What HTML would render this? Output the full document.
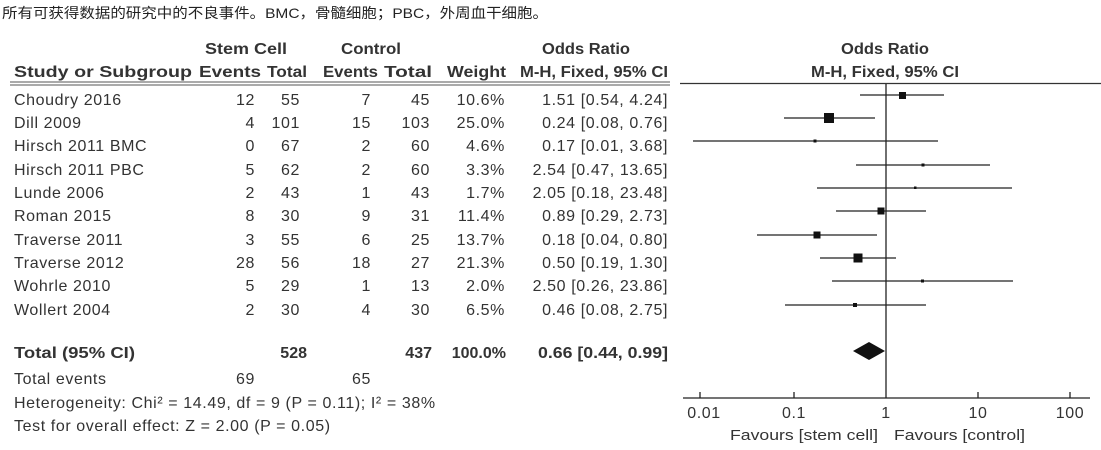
<!DOCTYPE html>
<html><head><meta charset="utf-8"><style>
body{margin:0;background:#fff;}
svg{display:block;}
text{font-family:"Liberation Sans","Noto Sans CJK SC",sans-serif;font-size:16px;letter-spacing:0.6px;fill:#333;}
.b{font-weight:bold;font-size:16px;letter-spacing:0;}
</style></head><body>
<svg width="1101" height="450" viewBox="0 0 1101 450">
<text x="2" y="18" style="font-size:14px;letter-spacing:0;fill:#222" textLength="546" lengthAdjust="spacingAndGlyphs">所有可获得数据的研究中的不良事件。BMC，骨髓细胞；PBC，外周血干细胞。</text>
<text x="205" y="54" class="b" textLength="82" lengthAdjust="spacingAndGlyphs">Stem Cell</text>
<text x="341" y="54" class="b" textLength="60" lengthAdjust="spacingAndGlyphs">Control</text>
<text x="542" y="54" class="b" textLength="88" lengthAdjust="spacingAndGlyphs">Odds Ratio</text>
<text x="841" y="54" class="b" textLength="88" lengthAdjust="spacingAndGlyphs">Odds Ratio</text>
<text x="14" y="77" class="b" textLength="178" lengthAdjust="spacingAndGlyphs">Study or Subgroup</text>
<text x="199" y="77" class="b" textLength="62" lengthAdjust="spacingAndGlyphs">Events</text>
<text x="267" y="77" class="b" textLength="40" lengthAdjust="spacingAndGlyphs">Total</text>
<text x="323" y="77" class="b" textLength="55" lengthAdjust="spacingAndGlyphs">Events</text>
<text x="384" y="77" class="b" textLength="48" lengthAdjust="spacingAndGlyphs">Total</text>
<text x="447" y="77" class="b" textLength="59" lengthAdjust="spacingAndGlyphs">Weight</text>
<text x="520" y="77" class="b" textLength="148" lengthAdjust="spacingAndGlyphs">M-H, Fixed, 95% CI</text>
<text x="811" y="77" class="b" textLength="148" lengthAdjust="spacingAndGlyphs">M-H, Fixed, 95% CI</text>
<line x1="10" y1="82" x2="670" y2="82" stroke="#555" stroke-width="1"/>
<line x1="10" y1="85" x2="670" y2="85" stroke="#555" stroke-width="1"/>
<line x1="680" y1="83.5" x2="1101" y2="83.5" stroke="#333" stroke-width="1.3"/>

<g>
<text x="14" y="105">Choudry 2016</text><text x="255" y="105" text-anchor="end">12</text><text x="300" y="105" text-anchor="end">55</text><text x="371" y="105" text-anchor="end">7</text><text x="430" y="105" text-anchor="end">45</text><text x="505" y="105" text-anchor="end">10.6%</text><text x="668" y="105" text-anchor="end">1.51 [0.54, 4.24]</text>
<text x="14" y="128">Dill 2009</text><text x="255" y="128" text-anchor="end">4</text><text x="300" y="128" text-anchor="end">101</text><text x="371" y="128" text-anchor="end">15</text><text x="430" y="128" text-anchor="end">103</text><text x="505" y="128" text-anchor="end">25.0%</text><text x="668" y="128" text-anchor="end">0.24 [0.08, 0.76]</text>
<text x="14" y="151">Hirsch 2011 BMC</text><text x="255" y="151" text-anchor="end">0</text><text x="300" y="151" text-anchor="end">67</text><text x="371" y="151" text-anchor="end">2</text><text x="430" y="151" text-anchor="end">60</text><text x="505" y="151" text-anchor="end">4.6%</text><text x="668" y="151" text-anchor="end">0.17 [0.01, 3.68]</text>
<text x="14" y="175">Hirsch 2011 PBC</text><text x="255" y="175" text-anchor="end">5</text><text x="300" y="175" text-anchor="end">62</text><text x="371" y="175" text-anchor="end">2</text><text x="430" y="175" text-anchor="end">60</text><text x="505" y="175" text-anchor="end">3.3%</text><text x="668" y="175" text-anchor="end">2.54 [0.47, 13.65]</text>
<text x="14" y="198">Lunde 2006</text><text x="255" y="198" text-anchor="end">2</text><text x="300" y="198" text-anchor="end">43</text><text x="371" y="198" text-anchor="end">1</text><text x="430" y="198" text-anchor="end">43</text><text x="505" y="198" text-anchor="end">1.7%</text><text x="668" y="198" text-anchor="end">2.05 [0.18, 23.48]</text>
<text x="14" y="221">Roman 2015</text><text x="255" y="221" text-anchor="end">8</text><text x="300" y="221" text-anchor="end">30</text><text x="371" y="221" text-anchor="end">9</text><text x="430" y="221" text-anchor="end">31</text><text x="505" y="221" text-anchor="end">11.4%</text><text x="668" y="221" text-anchor="end">0.89 [0.29, 2.73]</text>
<text x="14" y="245">Traverse 2011</text><text x="255" y="245" text-anchor="end">3</text><text x="300" y="245" text-anchor="end">55</text><text x="371" y="245" text-anchor="end">6</text><text x="430" y="245" text-anchor="end">25</text><text x="505" y="245" text-anchor="end">13.7%</text><text x="668" y="245" text-anchor="end">0.18 [0.04, 0.80]</text>
<text x="14" y="268">Traverse 2012</text><text x="255" y="268" text-anchor="end">28</text><text x="300" y="268" text-anchor="end">56</text><text x="371" y="268" text-anchor="end">18</text><text x="430" y="268" text-anchor="end">27</text><text x="505" y="268" text-anchor="end">21.3%</text><text x="668" y="268" text-anchor="end">0.50 [0.19, 1.30]</text>
<text x="14" y="291">Wohrle 2010</text><text x="255" y="291" text-anchor="end">5</text><text x="300" y="291" text-anchor="end">29</text><text x="371" y="291" text-anchor="end">1</text><text x="430" y="291" text-anchor="end">13</text><text x="505" y="291" text-anchor="end">2.0%</text><text x="668" y="291" text-anchor="end">2.50 [0.26, 23.86]</text>
<text x="14" y="315">Wollert 2004</text><text x="255" y="315" text-anchor="end">2</text><text x="300" y="315" text-anchor="end">30</text><text x="371" y="315" text-anchor="end">4</text><text x="430" y="315" text-anchor="end">30</text><text x="505" y="315" text-anchor="end">6.5%</text><text x="668" y="315" text-anchor="end">0.46 [0.08, 2.75]</text>
</g>
<text x="14" y="358" class="b" textLength="121" lengthAdjust="spacingAndGlyphs">Total (95% CI)</text>
<text x="307" y="358" text-anchor="end" class="b">528</text>
<text x="432" y="358" text-anchor="end" class="b">437</text>
<text x="506" y="358" text-anchor="end" class="b">100.0%</text>
<text x="538" y="358" class="b" textLength="130" lengthAdjust="spacingAndGlyphs">0.66 [0.44, 0.99]</text>
<text x="14" y="384">Total events</text><text x="255" y="384" text-anchor="end">69</text><text x="371" y="384" text-anchor="end">65</text>
<text x="14" y="408">Heterogeneity: Chi² = 14.49, df = 9 (P = 0.11); I² = 38%</text>
<text x="14" y="431">Test for overall effect: Z = 2.00 (P = 0.05)</text>

<g stroke="#222" stroke-width="1.3">
<line x1="886" y1="84" x2="886" y2="398"/>
<line x1="683" y1="398" x2="1090" y2="398"/>
<line x1="700" y1="392" x2="700" y2="398"/>
<line x1="794" y1="392" x2="794" y2="398"/>
<line x1="978" y1="392" x2="978" y2="398"/>
<line x1="1070" y1="392" x2="1070" y2="398"/>
<line x1="860" y1="95" x2="944" y2="95"/>
<line x1="784" y1="118" x2="875" y2="118"/>
<line x1="693" y1="141" x2="938" y2="141"/>
<line x1="856" y1="165" x2="990" y2="165"/>
<line x1="817" y1="188" x2="1012" y2="188"/>
<line x1="836" y1="211" x2="926" y2="211"/>
<line x1="757" y1="235" x2="877" y2="235"/>
<line x1="820" y1="258" x2="896" y2="258"/>
<line x1="832" y1="281" x2="1013" y2="281"/>
<line x1="785" y1="305" x2="926" y2="305"/>
</g>
<g fill="#111">
<rect x="899" y="92" width="7" height="7"/>
<rect x="824" y="113" width="10" height="10"/>
<rect x="813.5" y="139.5" width="3" height="3"/>
<rect x="921.5" y="163.5" width="3" height="3"/>
<rect x="914" y="186.5" width="2.5" height="2.5"/>
<rect x="877.5" y="207.5" width="7" height="7"/>
<rect x="813.5" y="231.5" width="7" height="7"/>
<rect x="853.5" y="253.5" width="9" height="9"/>
<rect x="921" y="279.5" width="3" height="3"/>
<rect x="853" y="303" width="4" height="4"/>
<polygon points="853,351 869,342 885,351 869,360"/>
</g>
<text x="704" y="418" text-anchor="middle">0.01</text>
<text x="794" y="418" text-anchor="middle">0.1</text>
<text x="886" y="418" text-anchor="middle">1</text>
<text x="978" y="418" text-anchor="middle">10</text>
<text x="1070" y="418" text-anchor="middle">100</text>
<text x="730" y="440" style="font-size:15px;letter-spacing:0" textLength="148" lengthAdjust="spacingAndGlyphs">Favours [stem cell]</text>
<text x="894" y="440" style="font-size:15px;letter-spacing:0" textLength="131" lengthAdjust="spacingAndGlyphs">Favours [control]</text>
</svg>
</body></html>
